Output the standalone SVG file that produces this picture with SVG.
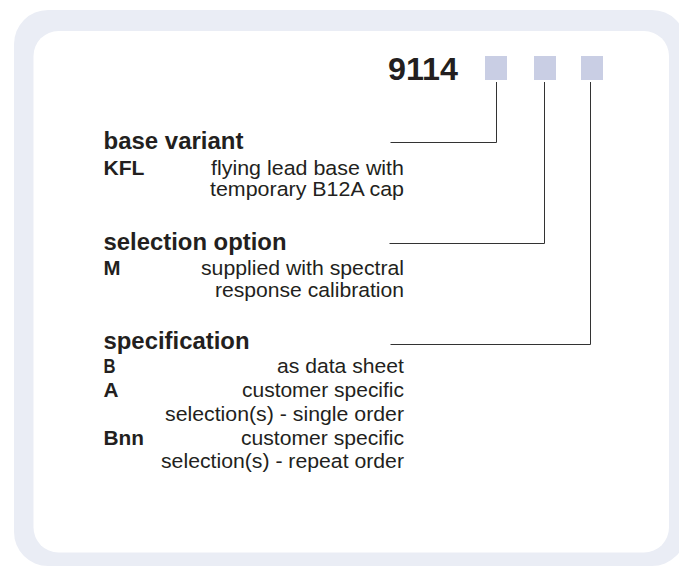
<svg xmlns="http://www.w3.org/2000/svg" width="679" height="566" viewBox="0 0 679 566">
<style>
.frame{fill:#eaedf5}
.panel{fill:#ffffff}
.box{fill:#c9cee4}
.t{font-family:"Liberation Sans",Arial,sans-serif;fill:#231f20}
.title{font-size:31px;font-weight:bold}
.head{font-size:23.5px;font-weight:bold}
.code{font-size:20.5px;font-weight:bold}
.desc{font-size:20.5px;text-anchor:end}
.conn{fill:none;stroke:#333333;stroke-width:1}
</style>
<rect class="frame" x="14" y="10" width="672" height="556" rx="34"/>
<rect class="panel" x="33.5" y="31" width="635.5" height="521.5" rx="25"/>
<g id="title">
<text class="t title" x="388" y="80" textLength="70" lengthAdjust="spacingAndGlyphs">9114</text>
</g>
<g id="box1"><rect class="box" x="485" y="56" width="22" height="24"/></g>
<g id="box2"><rect class="box" x="534" y="56" width="22" height="24"/></g>
<g id="box3"><rect class="box" x="581" y="56" width="22" height="24"/></g>
<g id="base-variant">
<text class="t head" x="103.5" y="149" textLength="140" lengthAdjust="spacingAndGlyphs">base variant</text>
<text class="t code" x="103.5" y="174.5" textLength="41" lengthAdjust="spacingAndGlyphs">KFL</text>
<text class="t desc" x="404" y="174.5" textLength="193" lengthAdjust="spacingAndGlyphs">flying lead base with</text>
<text class="t desc" x="404" y="196" textLength="194" lengthAdjust="spacingAndGlyphs">temporary B12A cap</text>
</g>
<g id="selection-option">
<text class="t head" x="103.5" y="250" textLength="183" lengthAdjust="spacingAndGlyphs">selection option</text>
<text class="t code" x="103.5" y="274.5" textLength="17" lengthAdjust="spacingAndGlyphs">M</text>
<text class="t desc" x="404" y="274.5" textLength="203" lengthAdjust="spacingAndGlyphs">supplied with spectral</text>
<text class="t desc" x="404" y="297" textLength="189" lengthAdjust="spacingAndGlyphs">response calibration</text>
</g>
<g id="specification">
<text class="t head" x="103.5" y="349" textLength="146" lengthAdjust="spacingAndGlyphs">specification</text>
<text class="t code" x="103.5" y="373" textLength="12" lengthAdjust="spacingAndGlyphs">B</text>
<text class="t desc" x="404" y="373" textLength="127" lengthAdjust="spacingAndGlyphs">as data sheet</text>
<text class="t code" x="103.5" y="396.5" textLength="15" lengthAdjust="spacingAndGlyphs">A</text>
<text class="t desc" x="404" y="396.5" textLength="162" lengthAdjust="spacingAndGlyphs">customer specific</text>
<text class="t desc" x="404" y="420.5" textLength="239" lengthAdjust="spacingAndGlyphs">selection(s) - single order</text>
<text class="t code" x="103.5" y="444.5" textLength="40.5" lengthAdjust="spacingAndGlyphs">Bnn</text>
<text class="t desc" x="404" y="444.5" textLength="163" lengthAdjust="spacingAndGlyphs">customer specific</text>
<text class="t desc" x="404" y="468" textLength="243" lengthAdjust="spacingAndGlyphs">selection(s) - repeat order</text>
</g>
<g id="connectors">
<path class="conn" d="M496.5,82 V142.5 H390.5"/>
<path class="conn" d="M544.5,82 V243.5 H389.5"/>
<path class="conn" d="M590.5,82 V344.5 H390.5"/>
</g>
</svg>
